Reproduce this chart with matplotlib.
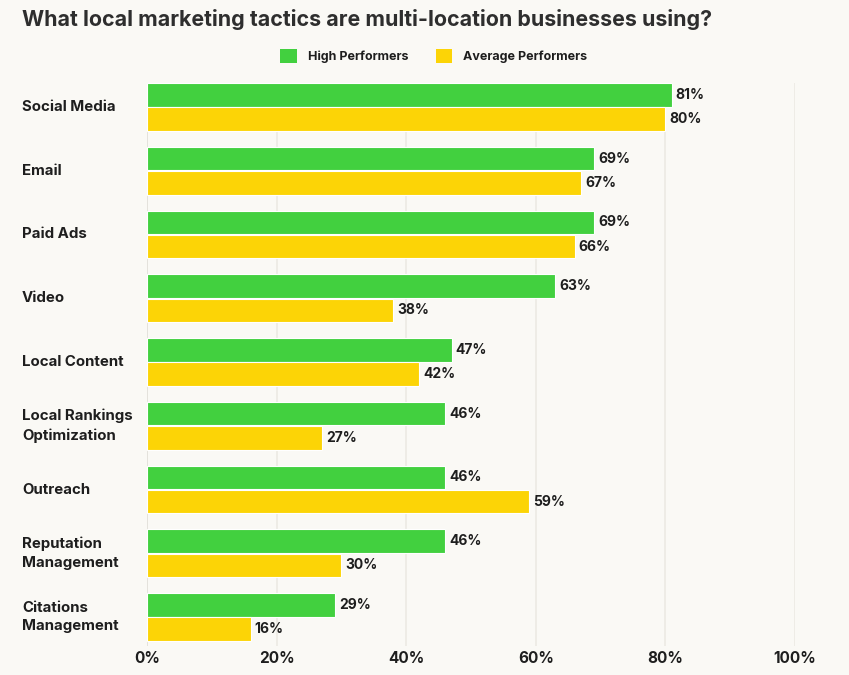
import matplotlib
matplotlib.use("Agg")
import matplotlib.pyplot as plt
from matplotlib.patches import Patch
import numpy as np

categories = ["Social Media", "Email", "Paid Ads", "Video", "Local Content",
              "Local Rankings\nOptimization", "Outreach", "Reputation\nManagement",
              "Citations\nManagement"]
high = [81, 69, 69, 63, 47, 46, 46, 46, 29]
average = [80, 67, 66, 38, 42, 27, 59, 30, 16]
xticks = [0, 20, 40, 60, 80, 100]
xtick_labels = ["0%", "20%", "40%", "60%", "80%", "100%"]

BG = "#FAF9F5"
GREEN = "#42D03F"
YELLOW = "#FCD406"
TXT = "#1E1E1E"
FONT = ["Inter", "DejaVu Sans"]

W, H = 849, 675
fig = plt.figure(figsize=(W / 100, H / 100), dpi=100, facecolor=BG)
left, right = 147 / W, 795 / W
top_px, bot_px = 75, 649
ax = fig.add_axes([left, 1 - bot_px / H, right - left, (bot_px - top_px) / H])
ax.set_facecolor(BG)

y = np.arange(len(categories))
bh = 0.37
off = 0.19
ax.vlines(xticks, -off - bh / 2, len(categories) - 0.55,
          colors=["#E0DED8"] + ["#ECEAE4"] * (len(xticks) - 1), linewidth=1.2, zorder=1)
ax.barh(y - off, high, height=bh, color=GREEN, edgecolor="white", linewidth=0.8, zorder=3)
ax.barh(y + off, average, height=bh, color=YELLOW, edgecolor="white", linewidth=0.8, zorder=3)

for i in range(len(categories)):
    ax.text(high[i] + 0.6, y[i] - off, f"{high[i]}%", va="center", ha="left",
            fontsize=10, fontweight="bold", color=TXT, family=FONT)
    ax.text(average[i] + 0.6, y[i] + off, f"{average[i]}%", va="center", ha="left",
            fontsize=10, fontweight="bold", color=TXT, family=FONT)

ax.set_xlim(0, 100)
ax.set_ylim(len(categories) - 0.5, -0.5)
ax.set_xticks(xticks)
ax.set_xticklabels(xtick_labels, fontsize=11, fontweight="bold", color=TXT, family=FONT)
ax.set_yticks(y)
ax.set_yticklabels(categories, fontsize=10.8, fontweight="bold", color=TXT, family=FONT,
                   ha="left", va="center", linespacing=1.4)
ax.tick_params(axis="y", length=0, pad=(147 - 22) * 0.72)
ax.tick_params(axis="x", length=0, pad=1.5)
for s in ax.spines.values():
    s.set_visible(False)

fig.text(22 / W, 1 - 20 / H, "What local marketing tactics are multi-location businesses using?",
         fontsize=15.4, fontweight="bold", color="#2E2E2E", family=FONT, va="center", ha="left")

handles = [Patch(facecolor=GREEN, label="High Performers"),
           Patch(facecolor=YELLOW, label="Average Performers")]
fig.legend(handles=handles, loc="center", bbox_to_anchor=(434 / W, 1 - 56 / H), ncol=2,
           frameon=False, prop={"family": FONT, "weight": "bold", "size": 9},
           handlelength=1.3, handleheight=1.3, columnspacing=2.2, handletextpad=0.9,
           labelcolor=TXT)

fig.savefig("out.png", dpi=100, facecolor=BG)
